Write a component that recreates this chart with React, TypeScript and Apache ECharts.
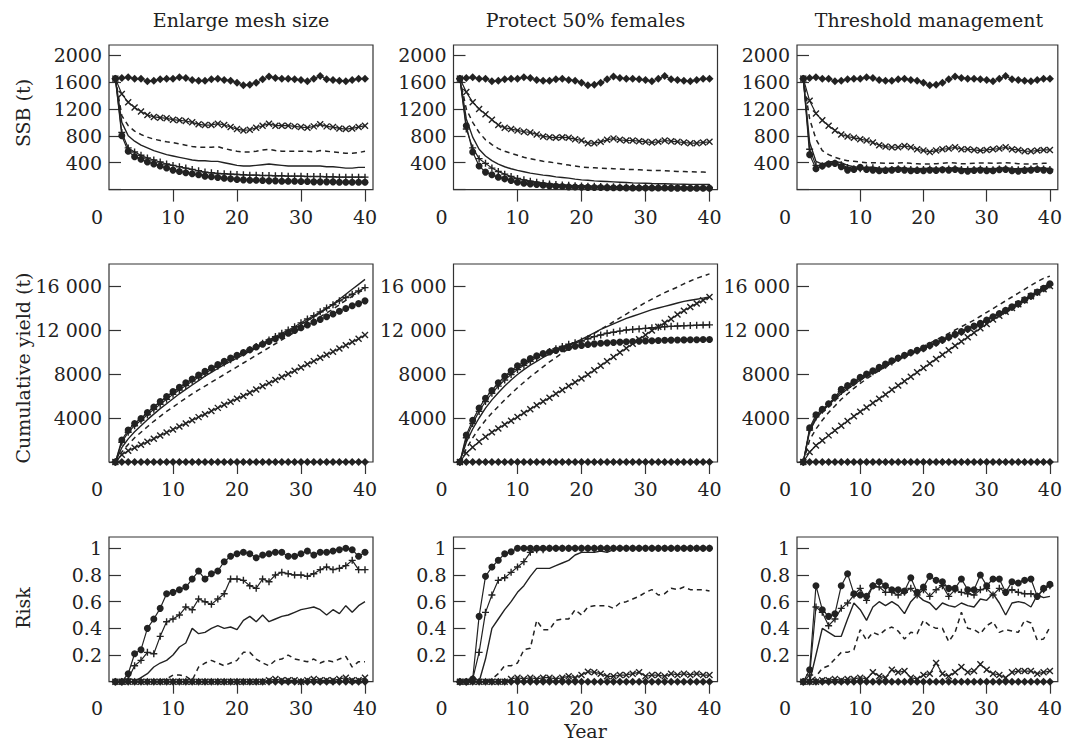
import React, { useEffect, useRef } from "react";
import * as echarts from "echarts";

// ---------- labels ----------
const panelTitles = ["Enlarge mesh size", "Protect 50% females", "Threshold management"];
const rowTitles = ["SSB (t)", "Cumulative yield (t)", "Risk"];
const xTitle = "Year";

// ---------- x axis ----------
const years = [1, 2, 3, 4, 5, 6, 7, 8, 9, 10, 11, 12, 13, 14, 15, 16, 17, 18, 19, 20,
  21, 22, 23, 24, 25, 26, 27, 28, 29, 30, 31, 32, 33, 34, 35, 36, 37, 38, 39, 40];
const xTickValues = [0, 10, 20, 30, 40];

// ---------- y ticks ----------
const ssbTickValues = [400, 800, 1200, 1600, 2000];
const ssbTickLabels = ["400", "800", "1200", "1600", "2000"];
const yieldTickValues = [4000, 8000, 12000, 16000];
const yieldTickLabels = ["4000", "8000", "12 000", "16 000"];
const riskTickValues = [0.2, 0.4, 0.6, 0.8, 1];
const riskTickLabels = ["0.2", "0.4", "0.6", "0.8", "1"];

// ---------- SSB ----------
const ssbNoFishing = [1650, 1660, 1670, 1650, 1650, 1610, 1620, 1640, 1650, 1650, 1670, 1660, 1630, 1620, 1620, 1640, 1650, 1630, 1620, 1590,
  1550, 1560, 1590, 1640, 1680, 1660, 1650, 1650, 1640, 1630, 1610, 1650, 1690, 1640, 1630, 1620, 1610, 1630, 1650, 1650];

const ssbMeshCross = [1650, 1420, 1300, 1220, 1160, 1110, 1080, 1070, 1060, 1040, 1030, 1020, 1000, 970, 960, 960, 980, 960, 930, 900,
  880, 890, 920, 950, 980, 950, 950, 950, 940, 930, 920, 940, 970, 940, 930, 910, 900, 910, 930, 950];
const ssbMeshDashed = [1650, 1100, 950, 870, 820, 780, 750, 730, 710, 700, 680, 660, 640, 630, 630, 630, 640, 610, 590, 570,
  560, 560, 570, 590, 600, 580, 570, 570, 570, 570, 570, 560, 580, 570, 560, 550, 540, 540, 550, 570];
const ssbMeshSolid = [1650, 1000, 800, 720, 660, 620, 580, 550, 520, 500, 480, 460, 440, 430, 430, 420, 420, 400, 380, 360,
  350, 350, 360, 370, 380, 370, 360, 350, 350, 350, 350, 350, 350, 340, 340, 330, 320, 320, 330, 330];
const ssbMeshPlus = [1650, 850, 620, 560, 510, 470, 440, 410, 380, 360, 340, 320, 300, 280, 260, 250, 240, 235, 230, 225,
  220, 215, 215, 210, 210, 205, 205, 200, 200, 200, 195, 195, 195, 190, 190, 185, 185, 185, 185, 185];
const ssbMeshCircle = [1650, 800, 570, 490, 450, 410, 380, 350, 320, 290, 270, 250, 235, 220, 200, 190, 180, 170, 160, 150,
  145, 140, 140, 135, 130, 130, 125, 125, 125, 120, 120, 115, 115, 115, 115, 110, 110, 110, 110, 110];

const ssbFemCross = [1650, 1450, 1300, 1200, 1120, 1040, 960, 920, 900, 880, 860, 850, 820, 790, 780, 770, 780, 770, 750, 730,
  690, 690, 710, 740, 760, 740, 730, 730, 720, 710, 700, 710, 730, 720, 710, 700, 690, 690, 700, 710];
const ssbFemDashed = [1650, 1200, 1000, 850, 740, 670, 610, 570, 540, 510, 480, 460, 440, 420, 410, 395, 380, 365, 350, 335,
  330, 325, 320, 315, 310, 305, 300, 300, 295, 290, 285, 285, 280, 275, 270, 268, 265, 262, 260, 258];
const ssbFemSolid = [1650, 1050, 780, 600, 500, 430, 380, 340, 310, 285, 265, 245, 230, 215, 205, 190, 180, 170, 155, 145,
  138, 130, 125, 120, 115, 110, 105, 100, 97, 94, 90, 88, 86, 84, 82, 80, 78, 77, 76, 75];
const ssbFemPlus = [1650, 900, 620, 460, 390, 320, 270, 230, 195, 165, 145, 125, 110, 95, 85, 75, 70, 63, 58, 55,
  50, 48, 45, 43, 41, 40, 38, 37, 36, 35, 34, 33, 33, 32, 32, 31, 31, 30, 30, 30];
const ssbFemCircle = [1650, 950, 560, 350, 260, 220, 185, 160, 135, 110, 95, 85, 75, 65, 55, 50, 45, 40, 38, 35,
  33, 31, 30, 29, 28, 27, 26, 25, 25, 24, 24, 23, 23, 22, 22, 21, 21, 20, 20, 20];

const ssbThrCross = [1650, 1320, 1130, 1030, 950, 880, 820, 790, 770, 750, 730, 700, 660, 640, 630, 630, 650, 630, 600, 580,
  560, 580, 600, 610, 630, 600, 600, 590, 580, 590, 600, 610, 630, 600, 590, 570, 570, 580, 590, 590];
const ssbThrDashed = [1650, 1050, 750, 580, 520, 480, 450, 430, 420, 410, 400, 400, 395, 390, 390, 395, 400, 390, 385, 380,
  380, 385, 390, 400, 395, 385, 385, 390, 395, 395, 390, 395, 400, 395, 385, 380, 380, 385, 390, 390];
const ssbThrSolid = [1650, 700, 420, 380, 410, 420, 400, 360, 340, 330, 330, 335, 320, 315, 320, 325, 320, 315, 310, 315,
  320, 320, 315, 320, 325, 315, 310, 315, 320, 315, 310, 320, 325, 315, 310, 315, 320, 325, 320, 315];
const ssbThrPlus = [1650, 600, 360, 350, 380, 390, 370, 330, 310, 310, 320, 325, 300, 295, 300, 310, 305, 300, 295, 300,
  305, 300, 295, 305, 310, 300, 295, 300, 305, 300, 295, 305, 310, 300, 295, 300, 305, 310, 305, 300];
const ssbThrCircle = [1650, 520, 310, 350, 380, 390, 340, 290, 300, 330, 300, 290, 280, 285, 290, 300, 290, 280, 285, 280,
  290, 285, 295, 290, 300, 280, 275, 285, 290, 280, 280, 295, 300, 280, 275, 285, 290, 300, 290, 280];

// ---------- Cumulative yield ----------
const yieldNoFishing = [0, 0, 0, 0, 0, 0, 0, 0, 0, 0, 0, 0, 0, 0, 0, 0, 0, 0, 0, 0,
  0, 0, 0, 0, 0, 0, 0, 0, 0, 0, 0, 0, 0, 0, 0, 0, 0, 0, 0, 0];

const yieldMeshCross = [0, 650, 1020, 1290, 1560, 1840, 2110, 2400, 2680, 2950, 3230, 3510, 3790, 4080, 4350, 4630, 4920, 5200, 5470, 5740,
  6010, 6300, 6590, 6880, 7170, 7450, 7730, 8010, 8300, 8590, 8880, 9170, 9470, 9750, 10030, 10320, 10610, 10900, 11200, 11550];
const yieldMeshDashed = [0, 900, 1600, 2200, 2700, 3200, 3700, 4150, 4600, 5000, 5400, 5800, 6200, 6550, 6900, 7250, 7600, 7950, 8300, 8650,
  9000, 9350, 9700, 10050, 10400, 10750, 11100, 11450, 11800, 12150, 12500, 12850, 13200, 13550, 13900, 14300, 14700, 15050, 15400, 15750];
const yieldMeshSolid = [0, 1300, 2100, 2750, 3300, 3850, 4350, 4850, 5300, 5750, 6200, 6600, 7000, 7400, 7800, 8150, 8500, 8850, 9150, 9450,
  9750, 10050, 10350, 10650, 10950, 11250, 11550, 11850, 12150, 12500, 12850, 13200, 13550, 13950, 14350, 14800, 15250, 15700, 16150, 16600];
const yieldMeshPlus = [0, 1800, 2700, 3300, 3800, 4300, 4800, 5250, 5700, 6150, 6550, 6950, 7350, 7700, 8050, 8400, 8700, 9000, 9300, 9600,
  9900, 10200, 10500, 10800, 11100, 11400, 11700, 12000, 12300, 12650, 13000, 13300, 13650, 14000, 14300, 14650, 14950, 15250, 15550, 15850];
const yieldMeshCircle = [0, 2000, 2900, 3500, 3960, 4500, 5000, 5500, 5950, 6400, 6800, 7200, 7550, 7900, 8250, 8550, 8850, 9150, 9450, 9700,
  9950, 10200, 10450, 10700, 10950, 11200, 11450, 11700, 11950, 12200, 12450, 12700, 12950, 13200, 13450, 13700, 13950, 14200, 14400, 14650];

const yieldFemCross = [0, 800, 1350, 1850, 2300, 2700, 3050, 3400, 3750, 4100, 4450, 4800, 5150, 5500, 5850, 6200, 6550, 6900, 7250, 7600,
  7950, 8350, 8750, 9150, 9550, 9950, 10350, 10750, 11150, 11550, 11950, 12300, 12650, 13000, 13400, 13750, 14100, 14400, 14700, 15000];
const yieldFemDashed = [0, 1200, 2200, 3050, 3800, 4450, 5050, 5650, 6200, 6750, 7250, 7750, 8200, 8650, 9100, 9500, 9900, 10300, 10650, 11000,
  11350, 11700, 12050, 12400, 12750, 13100, 13450, 13800, 14150, 14500, 14800, 15100, 15400, 15650, 15900, 16200, 16450, 16700, 16900, 17100];
const yieldFemSolid = [0, 1800, 3000, 4000, 4900, 5650, 6300, 6900, 7450, 7950, 8400, 8800, 9150, 9500, 9800, 10100, 10400, 10650, 10900, 11150,
  11450, 11750, 12050, 12300, 12550, 12800, 13050, 13250, 13450, 13650, 13850, 14000, 14150, 14300, 14450, 14600, 14700, 14800, 14900, 15000];
const yieldFemPlus = [0, 2200, 3500, 4600, 5500, 6250, 6900, 7450, 7950, 8400, 8800, 9150, 9500, 9800, 10050, 10300, 10500, 10700, 10850, 11000,
  11200, 11400, 11550, 11700, 11800, 11900, 12000, 12050, 12100, 12150, 12200, 12250, 12300, 12330, 12360, 12390, 12410, 12430, 12450, 12470];
const yieldFemCircle = [0, 2450, 3800, 4900, 5800, 6500, 7200, 7800, 8300, 8750, 9100, 9400, 9650, 9850, 10000, 10150, 10300, 10420, 10520, 10600,
  10680, 10740, 10790, 10830, 10870, 10900, 10930, 10960, 10990, 11010, 11030, 11050, 11070, 11080, 11090, 11100, 11110, 11120, 11130, 11140];

const yieldThrCross = [0, 900, 1500, 1950, 2420, 2860, 3300, 3720, 4150, 4560, 4950, 5360, 5750, 6140, 6560, 6950, 7340, 7760, 8150, 8540,
  8950, 9360, 9740, 10150, 10560, 10950, 11340, 11760, 12150, 12540, 12950, 13300, 13660, 14000, 14350, 14700, 15060, 15400, 15700, 16000];
const yieldThrDashed = [0, 2000, 3000, 3800, 4500, 5100, 5700, 6200, 6700, 7150, 7550, 7950, 8300, 8650, 9000, 9300, 9600, 9900, 10200, 10500,
  10800, 11100, 11400, 11700, 12000, 12300, 12600, 12900, 13250, 13600, 13950, 14300, 14650, 15000, 15350, 15700, 16050, 16400, 16700, 16900];
const yieldThrSolid = [0, 2800, 3900, 4600, 5200, 5700, 6200, 6650, 7050, 7450, 7800, 8100, 8400, 8700, 9000, 9300, 9550, 9800, 10050, 10300,
  10550, 10800, 11050, 11300, 11550, 11850, 12150, 12400, 12650, 12950, 13250, 13550, 13850, 14150, 14450, 14800, 15150, 15500, 15900, 16300];
const yieldThrPlus = [0, 2900, 4100, 4700, 5250, 5800, 6400, 6800, 7200, 7600, 7900, 8200, 8500, 8800, 9100, 9400, 9650, 9900, 10100, 10300,
  10550, 10800, 11050, 11300, 11550, 11800, 12050, 12300, 12550, 12850, 13150, 13450, 13750, 14050, 14350, 14700, 15050, 15400, 15750, 16100];
const yieldThrCircle = [0, 3100, 4300, 4800, 5300, 5900, 6600, 6950, 7300, 7700, 8000, 8300, 8600, 8900, 9200, 9450, 9700, 9950, 10150, 10350,
  10600, 10850, 11100, 11350, 11600, 11850, 12100, 12350, 12600, 12900, 13200, 13500, 13800, 14100, 14400, 14750, 15100, 15450, 15800, 16200];

// ---------- Risk ----------
const riskNoFishing = [0, 0, 0, 0, 0, 0, 0, 0, 0, 0, 0, 0, 0, 0, 0, 0, 0, 0, 0, 0,
  0, 0, 0, 0, 0, 0, 0, 0, 0, 0, 0, 0, 0, 0, 0, 0, 0, 0, 0, 0];

const riskMeshCross = [0, 0, 0, 0, 0, 0, 0, 0, 0, 0, 0, 0, 0, 0, 0, 0, 0, 0, 0, 0,
  0, 0, 0, 0, 0.01, 0.02, 0.01, 0.01, 0.01, 0, 0.01, 0.02, 0.01, 0.01, 0.01, 0.02, 0.03, 0.01, 0.01, 0.03];
const riskMeshDashed = [0, 0, 0, 0, 0, 0, 0, 0.01, 0.02, 0.05, 0.05, 0.04, 0.01, 0.11, 0.14, 0.16, 0.14, 0.12, 0.14, 0.16,
  0.22, 0.22, 0.17, 0.14, 0.12, 0.16, 0.17, 0.2, 0.17, 0.16, 0.15, 0.17, 0.14, 0.16, 0.15, 0.17, 0.19, 0.11, 0.15, 0.15];
const riskMeshSolid = [0, 0, 0, 0, 0.03, 0.06, 0.11, 0.14, 0.16, 0.2, 0.26, 0.29, 0.4, 0.36, 0.37, 0.4, 0.42, 0.4, 0.41, 0.39,
  0.46, 0.49, 0.45, 0.5, 0.45, 0.47, 0.49, 0.5, 0.52, 0.54, 0.55, 0.56, 0.54, 0.5, 0.54, 0.51, 0.57, 0.52, 0.57, 0.6];
const riskMeshPlus = [0, 0, 0.02, 0.12, 0.16, 0.22, 0.21, 0.34, 0.45, 0.47, 0.5, 0.56, 0.54, 0.62, 0.6, 0.58, 0.62, 0.66, 0.77, 0.77,
  0.76, 0.72, 0.7, 0.77, 0.75, 0.8, 0.82, 0.81, 0.8, 0.8, 0.79, 0.81, 0.84, 0.86, 0.84, 0.85, 0.87, 0.91, 0.84, 0.84];
const riskMeshCircle = [0, 0, 0.06, 0.21, 0.24, 0.4, 0.47, 0.55, 0.66, 0.67, 0.69, 0.71, 0.77, 0.83, 0.77, 0.81, 0.83, 0.9, 0.94, 0.96,
  0.97, 0.96, 0.93, 0.95, 0.96, 0.97, 0.97, 0.94, 0.94, 0.96, 0.98, 0.95, 0.97, 0.97, 0.98, 0.99, 1, 0.99, 0.94, 0.97];

const riskFemCross = [0, 0, 0, 0, 0, 0, 0, 0, 0.02, 0.03, 0.02, 0.03, 0.02, 0.03, 0.03, 0.02, 0.03, 0.04, 0.03, 0.05,
  0.075, 0.07, 0.06, 0.04, 0.04, 0.05, 0.05, 0.06, 0.07, 0.04, 0.05, 0.05, 0.04, 0.06, 0.05, 0.06, 0.05, 0.06, 0.05, 0.05];
const riskFemDashed = [0, 0, 0, 0, 0, 0.02, 0.06, 0.12, 0.12, 0.14, 0.24, 0.25, 0.46, 0.39, 0.39, 0.46, 0.47, 0.47, 0.54, 0.5,
  0.56, 0.57, 0.57, 0.57, 0.55, 0.59, 0.6, 0.62, 0.64, 0.67, 0.69, 0.65, 0.66, 0.7, 0.69, 0.71, 0.69, 0.69, 0.69, 0.68];
const riskFemSolid = [0, 0, 0, 0, 0.17, 0.4, 0.47, 0.54, 0.6, 0.67, 0.72, 0.79, 0.85, 0.85, 0.85, 0.87, 0.89, 0.91, 0.95, 0.97,
  0.97, 0.97, 0.98, 0.97, 0.99, 1, 1, 1, 1, 1, 1, 1, 1, 1, 1, 1, 1, 1, 1, 1];
const riskFemPlus = [0, 0, 0.02, 0.22, 0.52, 0.65, 0.76, 0.78, 0.82, 0.86, 0.9, 0.97, 0.99, 0.99, 1, 1, 1, 1, 1, 1,
  1, 1, 1, 1, 1, 1, 1, 1, 1, 1, 1, 1, 1, 1, 1, 1, 1, 1, 1, 1];
const riskFemCircle = [0, 0, 0.02, 0.49, 0.79, 0.86, 0.91, 0.96, 0.975, 1, 1, 1, 1, 1, 1, 1, 1, 1, 1, 1,
  1, 1, 1, 1, 1, 1, 1, 1, 1, 1, 1, 1, 1, 1, 1, 1, 1, 1, 1, 1];

const riskThrCross = [0, 0, 0, 0.01, 0.01, 0.02, 0.01, 0.02, 0.02, 0.03, 0.02, 0.07, 0.04, 0.03, 0.09, 0.07, 0.08, 0.03, 0.02, 0.05,
  0.06, 0.14, 0.06, 0.04, 0.07, 0.11, 0.07, 0.08, 0.13, 0.09, 0.06, 0.05, 0.03, 0.07, 0.08, 0.08, 0.08, 0.06, 0.07, 0.08];
const riskThrDashed = [0, 0, 0.04, 0.1, 0.12, 0.17, 0.22, 0.22, 0.24, 0.39, 0.31, 0.37, 0.35, 0.39, 0.41, 0.38, 0.32, 0.37, 0.36, 0.46,
  0.42, 0.4, 0.4, 0.3, 0.37, 0.52, 0.4, 0.39, 0.36, 0.42, 0.45, 0.37, 0.39, 0.38, 0.37, 0.46, 0.44, 0.31, 0.32, 0.41];
const riskThrSolid = [0, 0, 0.2, 0.4, 0.37, 0.34, 0.34, 0.47, 0.59, 0.54, 0.46, 0.56, 0.6, 0.57, 0.6, 0.57, 0.51, 0.6, 0.65, 0.61,
  0.59, 0.54, 0.59, 0.57, 0.56, 0.59, 0.57, 0.56, 0.62, 0.61, 0.66, 0.59, 0.5, 0.59, 0.6, 0.59, 0.56, 0.65, 0.63, 0.64];
const riskThrPlus = [0, 0.05, 0.56, 0.52, 0.42, 0.47, 0.55, 0.59, 0.65, 0.7, 0.61, 0.72, 0.71, 0.67, 0.67, 0.65, 0.67, 0.7, 0.65, 0.69,
  0.64, 0.69, 0.72, 0.64, 0.69, 0.67, 0.66, 0.65, 0.69, 0.7, 0.65, 0.7, 0.67, 0.69, 0.67, 0.66, 0.66, 0.64, 0.69, 0.72];
const riskThrCircle = [0, 0.09, 0.72, 0.54, 0.49, 0.51, 0.72, 0.81, 0.66, 0.65, 0.64, 0.72, 0.75, 0.72, 0.69, 0.69, 0.68, 0.78, 0.67, 0.71,
  0.79, 0.76, 0.75, 0.7, 0.7, 0.77, 0.69, 0.69, 0.8, 0.72, 0.77, 0.77, 0.67, 0.75, 0.74, 0.76, 0.77, 0.64, 0.7, 0.73];

// panels[row][col] = series arrays in order: diamond, cross, dashed, solid, plus, circle
const panels = [
  [
    [ssbNoFishing, ssbMeshCross, ssbMeshDashed, ssbMeshSolid, ssbMeshPlus, ssbMeshCircle],
    [ssbNoFishing, ssbFemCross, ssbFemDashed, ssbFemSolid, ssbFemPlus, ssbFemCircle],
    [ssbNoFishing, ssbThrCross, ssbThrDashed, ssbThrSolid, ssbThrPlus, ssbThrCircle],
  ],
  [
    [yieldNoFishing, yieldMeshCross, yieldMeshDashed, yieldMeshSolid, yieldMeshPlus, yieldMeshCircle],
    [yieldNoFishing, yieldFemCross, yieldFemDashed, yieldFemSolid, yieldFemPlus, yieldFemCircle],
    [yieldNoFishing, yieldThrCross, yieldThrDashed, yieldThrSolid, yieldThrPlus, yieldThrCircle],
  ],
  [
    [riskNoFishing, riskMeshCross, riskMeshDashed, riskMeshSolid, riskMeshPlus, riskMeshCircle],
    [riskNoFishing, riskFemCross, riskFemDashed, riskFemSolid, riskFemPlus, riskFemCircle],
    [riskNoFishing, riskThrCross, riskThrDashed, riskThrSolid, riskThrPlus, riskThrCircle],
  ],
];

const INK = "#222222";
const FONT = "DejaVu Serif";
const FS = 19;

const crossPath = "path://M0,0L10,10M10,0L0,10";
const plusPath = "path://M5,0L5,10M0,5L10,5";

const seriesStyles = [
  { name: "diamond", symbol: "diamond", symbolSize: 8, lineType: "solid", width: 1.2 },
  { name: "cross", symbol: crossPath, symbolSize: 6, lineType: "solid", width: 1.2 },
  { name: "dashed", symbol: "none", symbolSize: 0, lineType: [5, 4], width: 1.5 },
  { name: "solid", symbol: "none", symbolSize: 0, lineType: "solid", width: 1.4 },
  { name: "plus", symbol: plusPath, symbolSize: 7, lineType: "solid", width: 1.2 },
  { name: "circle", symbol: "circle", symbolSize: 7, lineType: "solid", width: 1.2 },
];

const colLeft = [109, 453.5, 797];
const colWidth = 264;
const rowLayout = [
  { top: 45, height: 144.6 },
  { top: 264, height: 198 },
  { top: 537, height: 144.7 },
];
const rowAxis = [
  { max: 2150, values: ssbTickValues, labels: ssbTickLabels, labelMargin: 18 },
  { max: 18000, values: yieldTickValues, labels: yieldTickLabels, labelMargin: 17 },
  { max: 1.085, values: riskTickValues, labels: riskTickLabels, labelMargin: 17 },
];
const titleY = 20;
const rowTitleCenters = [113, 368, 608];

export default function App() {
  const ref = useRef<HTMLDivElement>(null);

  useEffect(() => {
    if (!ref.current) return;
    const chart = echarts.init(ref.current, undefined, { renderer: "svg" });

    const grids: any[] = [];
    const xAxes: any[] = [];
    const yAxes: any[] = [];
    const series: any[] = [];

    for (let r = 0; r < 3; r++) {
      for (let c = 0; c < 3; c++) {
        const idx = r * 3 + c;
        grids.push({
          left: colLeft[c],
          top: rowLayout[r].top,
          width: colWidth,
          height: rowLayout[r].height,
          show: true,
          borderColor: "#333",
          borderWidth: 1.2,
          backgroundColor: "transparent",
          containLabel: false,
        });
        xAxes.push({
          type: "value",
          gridIndex: idx,
          min: 0,
          max: 41.25,
          axisLine: { show: false },
          splitLine: { show: false },
          axisTick: {
            show: true,
            inside: false,
            length: 12,
            customValues: xTickValues.slice(1),
            lineStyle: { color: "#333", width: 1.2 },
          },
          axisLabel: {
            show: true,
            customValues: xTickValues,
            margin: rowAxis[r].labelMargin,
            color: INK,
            fontFamily: FONT,
            fontSize: FS,
            formatter: (v: number) => (v === 0 ? "{z|0}" : String(v)),
            rich: {
              z: { padding: [0, 24, 0, 0], fontFamily: FONT, fontSize: FS, color: INK },
            },
          },
        });
        const ra = rowAxis[r];
        yAxes.push({
          type: "value",
          gridIndex: idx,
          min: 0,
          max: ra.max,
          axisLine: { show: false },
          splitLine: { show: false },
          axisTick: {
            show: true,
            inside: true,
            length: 12,
            customValues: [0, ...ra.values],
            lineStyle: { color: "#333", width: 1.2 },
          },
          axisLabel: {
            show: true,
            customValues: ra.values,
            margin: 7,
            color: INK,
            fontFamily: FONT,
            fontSize: FS,
            formatter: (v: number) => {
              const i = ra.values.findIndex((t) => Math.abs(t - v) < 1e-9);
              return i >= 0 ? ra.labels[i] : "";
            },
          },
        });
        panels[r][c].forEach((arr, k) => {
          const st = seriesStyles[k];
          series.push({
            type: "line",
            name: st.name,
            xAxisIndex: idx,
            yAxisIndex: idx,
            data: years.map((yr, i) => [yr, arr[i]]),
            symbol: st.symbol,
            symbolSize: st.symbolSize,
            showSymbol: st.symbol !== "none",
            showAllSymbol: true,
            silent: true,
            lineStyle: { color: INK, width: st.width, type: st.lineType },
            itemStyle: { color: INK, borderColor: INK, borderWidth: k === 1 || k === 4 ? 1.4 : 0 },
            z: 2,
          });
        });
      }
    }

    const graphic: any[] = [];
    panelTitles.forEach((t, c) => {
      graphic.push({
        type: "text",
        x: colLeft[c] + colWidth / 2,
        y: titleY,
        style: { text: t, font: `${FS}px "${FONT}"`, fill: INK, align: "center", verticalAlign: "middle" },
      });
    });
    rowTitles.forEach((t, r) => {
      graphic.push({
        type: "text",
        x: 23,
        y: rowTitleCenters[r],
        rotation: Math.PI / 2,
        style: { text: t, font: `${FS}px "${FONT}"`, fill: INK, align: "center", verticalAlign: "middle" },
      });
    });
    graphic.push({
      type: "text",
      x: colLeft[1] + colWidth / 2,
      y: 731,
      style: { text: xTitle, font: `${FS}px "${FONT}"`, fill: INK, align: "center", verticalAlign: "middle" },
    });

    chart.setOption({
      animation: false,
      backgroundColor: "#ffffff",
      grid: grids,
      xAxis: xAxes,
      yAxis: yAxes,
      series,
      graphic,
    });

    return () => chart.dispose();
  }, []);

  return (
    <div
      ref={ref}
      style={{ position: "fixed", left: 0, top: 0, width: 1065, height: 745, background: "#fff" }}
    />
  );
}
